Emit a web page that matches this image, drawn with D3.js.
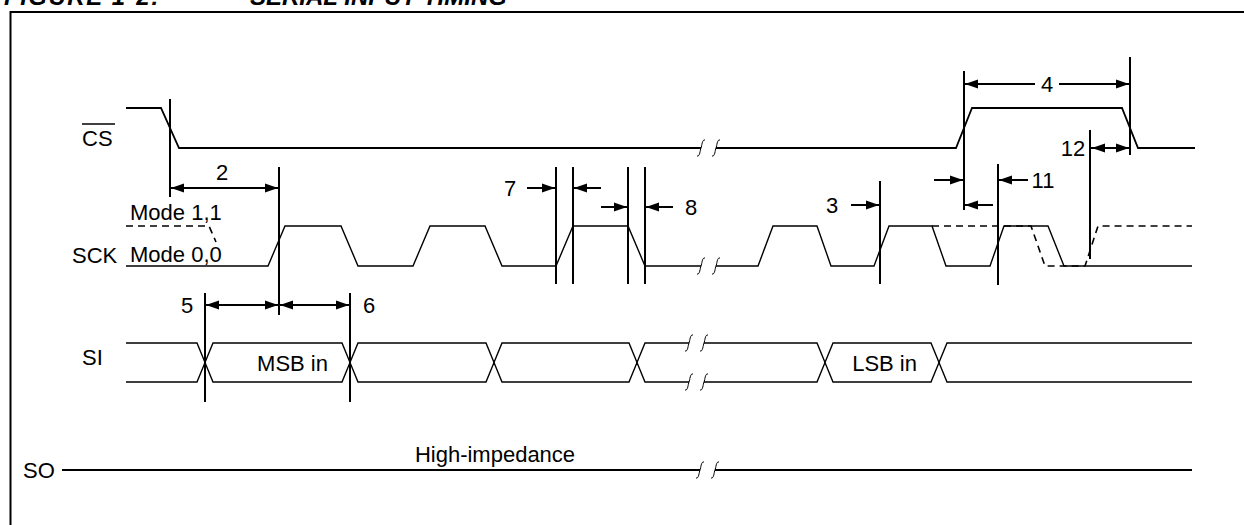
<!DOCTYPE html>
<html>
<head>
<meta charset="utf-8">
<script src="https://cdn.jsdelivr.net/npm/d3@7"></script>
<style>
  body { margin: 0; background: #fff; }
  text { font-family: Arial, "Liberation Sans", Helvetica, sans-serif; fill: #000; }
</style>
</head>
<body>
<div id="chart"></div>
<script>
// waveform points: [time, level]  (level 1 = high, 0 = low)
var csWave1 = [[126, 1], [161, 1], [179, 0], [701, 0]];
var csWave2 = [[716, 0], [956, 0], [972, 1], [1122, 1], [1138, 0], [1195, 0]];

var sckWave1 = [[126, 0], [268, 0], [285, 1], [341, 1], [358, 0], [413, 0], [430, 1], [485, 1],
                [502, 0], [556, 0], [573, 1], [628, 1], [645, 0], [701, 0]];
var sckWave2 = [[716, 0], [758, 0], [773, 1], [817, 1], [831, 0], [874, 0], [889, 1], [932, 1],
                [946, 0], [990, 0], [1004, 1], [1048, 1], [1064, 0], [1192, 0]];
// mode 1,1 idle-high clock (dashed)
var sckMode11a = [[126, 1], [209, 1], [216, 0.6]];
var sckMode11b = [[932, 1], [1031, 1], [1045, 0], [1085, 0], [1098, 1], [1192, 1]];

// SI data bus: crossing times, start / end
var siCross = [205, 350, 494, 637, 825, 939];
var siSpan = [126, 1192];
var siBits = [{ from: 205, to: 350, label: "MSB in" }, { from: 825, to: 939, label: "LSB in" }];

var soSpan = [62, 1192];

// time breaks ( / / ) per signal
var breakTimes = { CS: [701, 716], SCK: [701, 716], SI: [689, 704], SO: [700, 715] };

// timing reference lines
var markerTimes = [170, 279, 205, 350, 556, 573, 628, 645, 880, 964, 1130, 1090, 998];
var markerSpans = [[99, 197], [167, 315], [293, 402], [293, 402], [167, 284], [167, 284], [167, 284],
                   [167, 284], [181, 284], [71, 210], [57, 155], [130, 259], [164, 285]];

// timing parameters: arrows between times, heads "both" | "end"
var paramArrows = [
  { from: 170, to: 279, y: 188, heads: "both" },
  { from: 205, to: 279, y: 305, heads: "both" },
  { from: 279, to: 350, y: 305, heads: "both" },
  { from: 527, to: 556, y: 188, heads: "end" },
  { from: 601, to: 573, y: 188, heads: "end" },
  { from: 601, to: 628, y: 207, heads: "end" },
  { from: 673, to: 645, y: 207, heads: "end" },
  { from: 851, to: 880, y: 205, heads: "end" },
  { from: 1035, to: 964, y: 84, heads: "end" },
  { from: 1059, to: 1130, y: 84, heads: "end" },
  { from: 934, to: 964, y: 180, heads: "end" },
  { from: 1028, to: 998, y: 180, heads: "end" },
  { from: 993, to: 964, y: 205, heads: "end" },
  { from: 1091, to: 1130, y: 148, heads: "both" }
];
var paramLabels = [
  { t: 222, y: 172, text: "2" },
  { t: 187, y: 305, text: "5" },
  { t: 369, y: 305, text: "6" },
  { t: 510, y: 188, text: "7" },
  { t: 691, y: 207, text: "8" },
  { t: 832, y: 205, text: "3" },
  { t: 1047, y: 84, text: "4" },
  { t: 1043, y: 180, text: "11" },
  { t: 1073, y: 148, text: "12" }
];

var W = 1244, H = 525;
var svg = d3.select("#chart").append("svg").attr("width", W).attr("height", H);

var x = d3.scaleLinear().domain([0, 1244]).range([0, W]);
var yCS = d3.scaleLinear().domain([0, 1]).range([148, 108]);
var ySCK = d3.scaleLinear().domain([0, 1]).range([266, 226]);
var ySI = d3.scaleLinear().domain([0, 1]).range([382, 343]);
var ySO = 470;

// title (cropped at top) and frame
svg.append("text").attr("x", 4).attr("y", 5).style("font-size", "24px").style("letter-spacing", "1.5px")
  .style("font-weight", "bold").style("font-style", "italic").text("FIGURE 1-2:");
svg.append("text").attr("x", 250).attr("y", 5).style("font-size", "24px")
  .style("font-weight", "bold").style("font-style", "italic").text("SERIAL INPUT TIMING");
svg.append("path").attr("d", "M10.5,530 V12 H1250").attr("fill", "none")
  .attr("stroke", "#000").attr("stroke-width", 2);

function wave(pts, yS) {
  return d3.line().x(function(d) { return x(d[0]); }).y(function(d) { return yS(d[1]); })(pts);
}

function drawBreak(ts, cy) {
  ts.forEach(function(t) {
    var cx = x(t);
    svg.append("path")
      .attr("d", "M" + (cx - 4) + "," + (cy + 8) + " C" + (cx - 1) + "," + (cy + 9) + " " + (cx - 1) + "," + (cy + 2) +
        " " + cx + "," + cy + " S" + (cx + 1) + "," + (cy - 9) + " " + (cx + 4) + "," + (cy - 8))
      .attr("fill", "none").attr("stroke", "#000").attr("stroke-width", 1);
  });
}

// CS
[csWave1, csWave2].forEach(function(w) {
  svg.append("path").attr("d", wave(w, yCS)).attr("fill", "none")
    .attr("stroke", "#000").attr("stroke-width", 1.8);
});
drawBreak(breakTimes.CS, yCS(0));

// SCK
[sckWave1, sckWave2].forEach(function(w) {
  svg.append("path").attr("d", wave(w, ySCK)).attr("fill", "none")
    .attr("stroke", "#000").attr("stroke-width", 1.4);
});
[sckMode11a, sckMode11b].forEach(function(w) {
  svg.append("path").attr("d", wave(w, ySCK)).attr("fill", "none")
    .attr("stroke", "#000").attr("stroke-width", 1.6).attr("stroke-dasharray", "7,5");
});
drawBreak(breakTimes.SCK, ySCK(0));

// SI bus
var hw = 8;
function busLines(level) {
  var segs = [[[siSpan[0], level]]];
  siCross.forEach(function(c) {
    var cur = segs[segs.length - 1];
    if (c > breakTimes.SI[0] && cur.brk === undefined) {
      cur.push([breakTimes.SI[0], level]);
      cur.brk = true;
      var nxt = [[breakTimes.SI[1], level]];
      nxt.brk = true;
      segs.push(nxt);
      cur = nxt;
    }
    cur.push([c - hw, level], [c, 0.5], [c + hw, level]);
  });
  segs[segs.length - 1].push([siSpan[1], level]);
  return segs;
}
[1, 0].forEach(function(lv) {
  busLines(lv).forEach(function(s) {
    svg.append("path")
      .attr("d", d3.line().x(function(d) { return x(d[0]); }).y(function(d) { return ySI(d[1]); })(s))
      .attr("fill", "none").attr("stroke", "#000").attr("stroke-width", 1.4);
  });
});
drawBreak(breakTimes.SI, ySI(1));
drawBreak(breakTimes.SI, ySI(0));
siBits.forEach(function(b) {
  svg.append("text").attr("x", x(b.to) - 22).attr("y", ySI(0.5) + 8)
    .attr("text-anchor", "end").style("font-size", "22px").text(b.label);
});

// SO
svg.append("line").attr("x1", x(soSpan[0])).attr("x2", x(breakTimes.SO[0]))
  .attr("y1", ySO).attr("y2", ySO).attr("stroke", "#000").attr("stroke-width", 2);
svg.append("line").attr("x1", x(breakTimes.SO[1])).attr("x2", x(soSpan[1]))
  .attr("y1", ySO).attr("y2", ySO).attr("stroke", "#000").attr("stroke-width", 2);
drawBreak(breakTimes.SO, ySO);
svg.append("text").attr("x", 495).attr("y", ySO - 8).attr("text-anchor", "middle")
  .style("font-size", "22px").text("High-impedance");

// signal names
var nameFont = "22px";
svg.append("text").attr("x", 82).attr("y", 146).style("font-size", nameFont).text("CS");
svg.append("line").attr("x1", 82).attr("x2", 115).attr("y1", 124).attr("y2", 124)
  .attr("stroke", "#000").attr("stroke-width", 1.5);
svg.append("text").attr("x", 72).attr("y", 263).style("font-size", nameFont).text("SCK");
svg.append("text").attr("x", 130).attr("y", 220).style("font-size", nameFont).text("Mode 1,1");
svg.append("text").attr("x", 130).attr("y", 262).style("font-size", nameFont).text("Mode 0,0");
svg.append("text").attr("x", 82).attr("y", 365).style("font-size", nameFont).text("SI");
svg.append("text").attr("x", 23).attr("y", 478).style("font-size", nameFont).text("SO");

// reference lines
markerTimes.forEach(function(t, i) {
  svg.append("line").attr("x1", x(t)).attr("x2", x(t))
    .attr("y1", markerSpans[i][0]).attr("y2", markerSpans[i][1])
    .attr("stroke", "#000").attr("stroke-width", 2);
});

// arrows
function head(tipX, y, dir) {
  var L = 13, h = 4.5;
  svg.append("path")
    .attr("d", "M" + tipX + "," + y + " L" + (tipX - dir * L) + "," + (y - h) + " L" + (tipX - dir * L) + "," + (y + h) + "Z")
    .attr("fill", "#000");
}
paramArrows.forEach(function(a) {
  var x1 = x(a.from), x2 = x(a.to), dir = x2 > x1 ? 1 : -1;
  svg.append("line").attr("x1", x1).attr("x2", x2).attr("y1", a.y).attr("y2", a.y)
    .attr("stroke", "#000").attr("stroke-width", 2);
  head(x2 - dir, a.y, dir);
  if (a.heads === "both") head(x1 + dir, a.y, -dir);
});
paramLabels.forEach(function(l) {
  svg.append("text").attr("x", x(l.t)).attr("y", l.y + 8).attr("text-anchor", "middle")
    .style("font-size", "22px").text(l.text);
});
</script>
</body>
</html>
